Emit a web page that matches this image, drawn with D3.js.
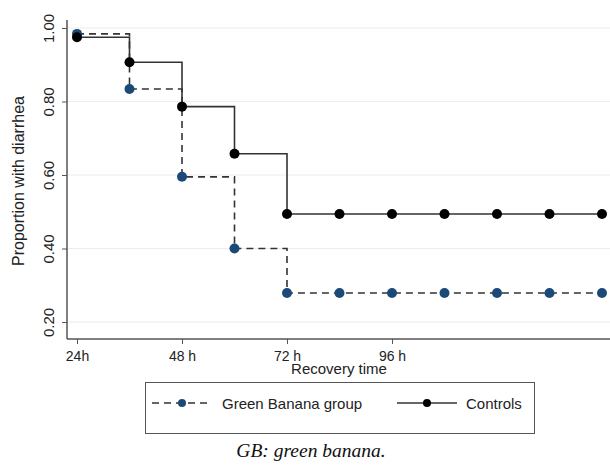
<!DOCTYPE html>
<html>
<head>
<meta charset="utf-8">
<script src="https://cdn.jsdelivr.net/npm/d3@7"></script>
<style>
  body { margin: 0; background: #fff; }
  svg { display: block; font-family: "Liberation Sans", Arial, sans-serif; }
</style>
</head>
<body>
<div id="chart"></div>
<script>
// Kaplan-Meier style step curves, proportion with diarrhea by recovery time
const hours = [24, 36, 48, 60, 72, 84, 96, 108, 120, 132, 144];
const greenBanana = [0.984, 0.834, 0.595, 0.40, 0.279, 0.279, 0.279, 0.279, 0.279, 0.279, 0.279];
const controls = [0.975, 0.907, 0.786, 0.658, 0.494, 0.494, 0.494, 0.494, 0.494, 0.494, 0.494];
const xTicks = [24, 48, 72, 96];
const xTickLabels = ['24h', '48 h', '72 h', '96 h'];
const yTicks = [0.2, 0.4, 0.6, 0.8, 1.0];

const width = 610, height = 470;
const margin = { top: 20, right: 0, bottom: 139, left: 67 };

const svg = d3.select('#chart').append('svg')
    .attr('width', width)
    .attr('height', height);

const x = d3.scaleLinear()
    .domain([24, 144])
    .range([77, 602]);

const y = d3.scaleLinear()
    .domain([0.2, 1.0])
    .range([322, 28]);

const plotBottom = height - margin.bottom + 8; // 331

// Grid lines
svg.append('g')
    .selectAll('line')
    .data(yTicks)
    .join('line')
    .attr('x1', margin.left)
    .attr('x2', width)
    .attr('y1', d => y(d))
    .attr('y2', d => y(d))
    .attr('stroke', '#ececec')
    .attr('stroke-width', 1.2);

// Y axis
const yAxis = d3.axisLeft(y)
    .tickValues(yTicks)
    .tickFormat(d3.format('.2f'))
    .tickSize(5)
    .tickSizeOuter(0);

const gy = svg.append('g')
    .attr('transform', `translate(${margin.left},0)`)
    .call(yAxis);
gy.select('.domain').remove();
gy.selectAll('.tick line').attr('stroke', '#555');
gy.selectAll('.tick text')
    .attr('transform', 'rotate(-90)')
    .attr('x', 0)
    .attr('y', -13)
    .attr('dy', 0)
    .attr('text-anchor', 'middle')
    .style('font-size', '15px')
    .attr('fill', '#222');
svg.append('line')
    .attr('x1', margin.left).attr('x2', margin.left)
    .attr('y1', margin.top).attr('y2', plotBottom)
    .attr('stroke', '#555').attr('stroke-width', 1.5);

// X axis
const xAxis = d3.axisBottom(x)
    .tickValues(xTicks)
    .tickFormat((d, i) => xTickLabels[i])
    .tickSize(5)
    .tickSizeOuter(0);

const gx = svg.append('g')
    .attr('transform', `translate(0,${plotBottom})`)
    .call(xAxis);
gx.select('.domain').remove();
gx.selectAll('.tick line').attr('stroke', '#555');
gx.selectAll('.tick text')
    .attr('y', 12)
    .style('font-size', '14px')
    .attr('fill', '#222');
svg.append('line')
    .attr('x1', margin.left).attr('x2', width)
    .attr('y1', plotBottom).attr('y2', plotBottom)
    .attr('stroke', '#555').attr('stroke-width', 1.5);

// Axis titles
svg.append('text')
    .attr('x', 339)
    .attr('y', 374)
    .attr('text-anchor', 'middle')
    .style('font-size', '15px')
    .attr('fill', '#222')
    .text('Recovery time');

svg.append('text')
    .attr('transform', 'translate(24, 181) rotate(-90)')
    .attr('text-anchor', 'middle')
    .style('font-size', '16px')
    .attr('fill', '#222')
    .text('Proportion with diarrhea');

// Step curves
const line = d3.line()
    .x(d => x(d[0]))
    .y(d => y(d[1]))
    .curve(d3.curveStepAfter);

const series = [
    { name: 'Green Banana group', values: greenBanana, dot: '#1c4a78', dash: '7,5' },
    { name: 'Controls', values: controls, dot: '#000', dash: null }
];

series.forEach(s => {
    const pts = hours.map((h, i) => [h, s.values[i]]);
    svg.append('path')
        .datum(pts)
        .attr('d', line)
        .attr('fill', 'none')
        .attr('stroke', '#333')
        .attr('stroke-width', 1.6)
        .attr('stroke-dasharray', s.dash);
    svg.append('g')
        .selectAll('circle')
        .data(pts)
        .join('circle')
        .attr('cx', d => x(d[0]))
        .attr('cy', d => y(d[1]))
        .attr('r', 5)
        .attr('fill', s.dot);
});

// Legend
const legend = svg.append('g');
legend.append('rect')
    .attr('x', 145.5).attr('y', 382.5)
    .attr('width', 389).attr('height', 51)
    .attr('fill', '#fff')
    .attr('stroke', '#555')
    .attr('stroke-width', 1);

const legendItems = [
    { s: series[0], x1: 152, x2: 212, tx: 222 },
    { s: series[1], x1: 397, x2: 457, tx: 466 }
];
legendItems.forEach(it => {
    legend.append('line')
        .attr('x1', it.x1).attr('x2', it.x2)
        .attr('y1', 403).attr('y2', 403)
        .attr('stroke', '#333')
        .attr('stroke-width', 1.6)
        .attr('stroke-dasharray', it.s.dash);
    legend.append('circle')
        .attr('cx', (it.x1 + it.x2) / 2)
        .attr('cy', 403)
        .attr('r', 4)
        .attr('fill', it.s.dot);
    legend.append('text')
        .attr('x', it.tx)
        .attr('y', 408.5)
        .style('font-size', '15px')
        .attr('fill', '#222')
        .text(it.s.name);
});

// Caption
svg.append('text')
    .attr('x', 311)
    .attr('y', 457)
    .attr('text-anchor', 'middle')
    .style('font-family', '"Liberation Serif", "Times New Roman", serif')
    .style('font-style', 'italic')
    .style('font-size', '19.5px')
    .attr('fill', '#111')
    .text('GB: green banana.');
</script>
</body>
</html>
